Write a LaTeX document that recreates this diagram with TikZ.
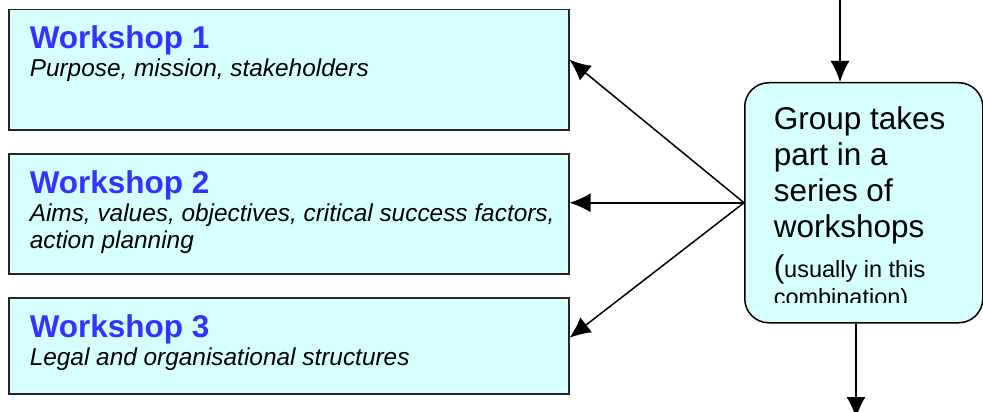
\documentclass[tikz,border=0pt]{standalone}
\usepackage{fontspec}
\setmainfont{Liberation Sans}
\usetikzlibrary{arrows.meta}
\definecolor{wsfill}{HTML}{D6FFFF}
\definecolor{wsblue}{HTML}{3333FF}

\begin{document}
\begin{tikzpicture}[x=1pt,y=-1pt,line width=1.5pt]

\tikzstyle{every node}=[inner sep=0pt]
\tikzstyle{wsbox}=[draw=black!85,fill=wsfill,minimum width=560pt,anchor=north west]
\tikzstyle{wstitle}=[anchor=base west,text=wsblue,font=\fontsize{31.5}{36}\selectfont\bfseries]
\tikzstyle{wstext}=[anchor=base west,font=\fontsize{24.4}{28}\selectfont\itshape]
\tikzstyle{grptext}=[anchor=base west,font=\fontsize{31.5}{36}\selectfont]
\tikzstyle{link}=[-{Latex[length=21pt,width=19pt]}]

\useasboundingbox (0,0) rectangle (983,412);
\clip (0,0) rectangle (983,412);

\node[wsbox,minimum height=120pt] (ws1) at (8,9) {};
\node[wstitle] (ws1name) at (29,49) {Workshop 1};
\node[wstext] (ws1text) at (29,77) {Purpose, mission, stakeholders};

\node[wsbox,minimum height=120pt] (ws2) at (8,153) {};
\node[wstitle] (ws2name) at (29,193) {Workshop 2};
\node[wstext] (ws2text) at (29,221) {Aims, values, objectives, critical success factors,};
\node[wstext] (ws2more) at (29,248) {action planning};

\node[wsbox,minimum height=96pt] (ws3) at (8,297) {};
\node[wstitle] (ws3name) at (29,337) {Workshop 3};
\node[wstext] (ws3text) at (29,365) {Legal and organisational structures};

\node[draw=black,fill=wsfill,rounded corners=24pt,minimum width=238pt,
      minimum height=240pt,anchor=north west] (group) at (744,82) {};

\begin{scope}
\clip (744,82) rectangle (983,302);
\node[grptext] (grp1) at (773,129) {Group takes};
\node[grptext] (grp2) at (773,165) {part in a};
\node[grptext] (grp3) at (773,201) {series of};
\node[grptext] (grp4) at (773,237) {workshops};
\node[grptext] (grp5) at (773,277) {(\fontsize{23.5}{27}\selectfont usually in this};
\node[grptext,font=\fontsize{23.5}{27}\selectfont] (grp6) at (773,305) {combination)};
\end{scope}

\coordinate (grpin) at (840,0);
\coordinate (grpout) at (856,418);
\draw[link] (grpin) -- (grpin |- group.north);
\draw[link] (group.south -| grpout) -- (grpout);

\draw[link] (group.west) -- ([yshift=10pt]ws1.east);
\draw[link] (group.west) -- (ws2.east |- group.west);
\draw[link] (group.west) -- ([yshift=8pt]ws3.east);

\end{tikzpicture}
\end{document}
